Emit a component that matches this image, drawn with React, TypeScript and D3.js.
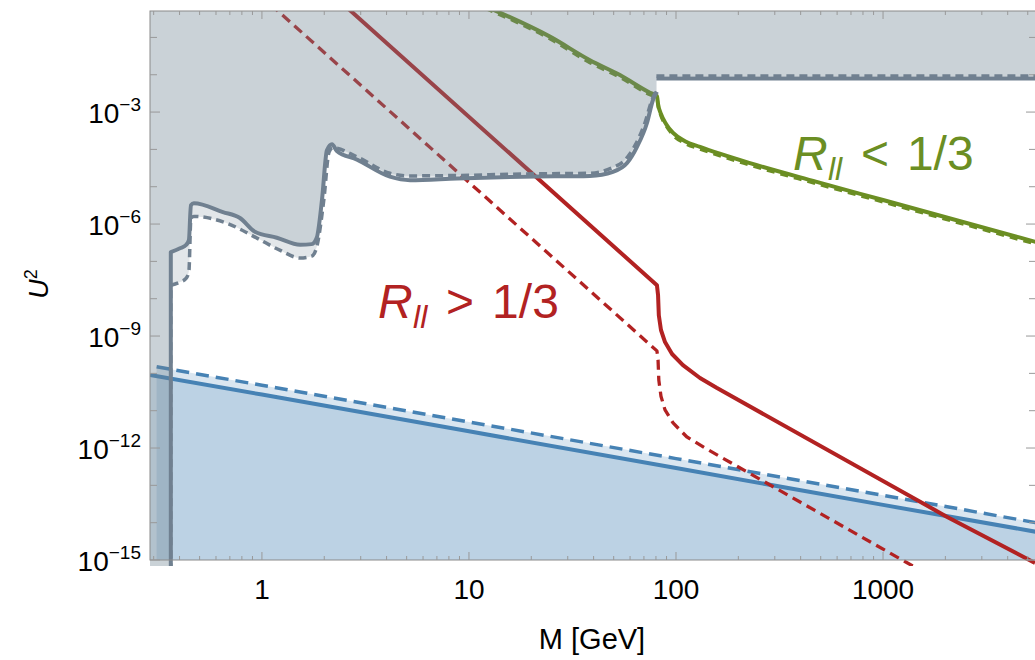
import React from 'react'
import * as d3 from 'd3'

type P = [number, number]

// axis ranges (M in GeV, U^2)
const xDomain: P = [0.288, 5480]
const yDomain: P = [1e-15, 0.51]
const xMajorTicks = [1, 10, 100, 1000]
const xTickLabels = ['1', '10', '100', '1000']
const yLabelExponents = [-3, -6, -9, -12, -15]
const yTickExponents = [-15, -14, -13, -12, -11, -10, -9, -8, -7, -6, -5, -4, -3, -2, -1]

// excluded region boundary, solid and dashed (first point = drop to the bottom)
const graySolid: P[] = [
  [0.363, 1e-16], [0.363, 1.78e-7], [0.402, 2.24e-7], [0.43, 2.75e-7], [0.444, 3.7e-7],
  [0.454, 3.2e-6], [0.469, 3.6e-6], [0.648, 2.1e-6], [0.783, 1.45e-6], [0.925, 6.2e-7],
  [1.18, 4.3e-7], [1.53, 2.8e-7], [1.74, 2.9e-7], [1.84, 4.3e-7], [1.95, 4.4e-6],
  [2.06, 9.5e-5], [2.18, 1.38e-4], [2.3, 9.1e-5], [2.88, 5.3e-5], [4.15, 1.86e-5],
  [5.19, 1.5e-5], [8.75, 1.66e-5], [18.2, 1.86e-5], [38.4, 1.95e-5], [49.6, 2.5e-5],
  [58, 4.3e-5], [64.8, 1.17e-4], [72.4, 5.1e-4], [77.4, 2.1e-3], [80.9, 3.5e-3],
]
const grayDashed: P[] = [
  [0.363, 1e-16], [0.363, 2.3e-8], [0.402, 2.8e-8], [0.43, 3.5e-8], [0.444, 5.5e-8],
  [0.454, 1.45e-6], [0.469, 1.6e-6], [0.678, 1.05e-6], [0.946, 4.2e-7], [1.22, 2.0e-7],
  [1.53, 1.23e-7], [1.74, 1.38e-7], [1.84, 2.45e-7], [1.99, 4.4e-6], [2.11, 8.5e-5],
  [2.2, 1.1e-4], [2.88, 6.3e-5], [4.15, 2.3e-5], [5.19, 1.95e-5], [8.75, 2.0e-5],
  [18.2, 2.2e-5], [38.4, 2.3e-5], [49, 3.2e-5], [56.7, 5.2e-5], [63.5, 1.3e-4],
  [71, 5.4e-4], [76.5, 2.1e-3], [80, 3.5e-3],
]
const grayTopSolid: P[] = [[80.4, 7.9e-3], [5480, 7.9e-3]]
const grayTopDashed: P[] = [[80.4, 9.2e-3], [5480, 9.2e-3]]

// lower bound (blue)
const blueSolid: P[] = [[0.288, 9.1e-11], [1, 2.7e-11], [10, 2.8e-12], [100, 2.9e-13], [1000, 3.0e-14], [5480, 5.7e-15]]
const blueDashed: P[] = [[0.31, 1.5e-10], [1, 4.8e-11], [10, 5.0e-12], [100, 5.2e-13], [1000, 5.4e-14], [5480, 1.0e-14]]

// R_ll > 1/3 (red)
const redSolid: P[] = [
  [2.5, 0.73], [80.9, 2.3e-8], [81.9, 1.26e-8], [82.6, 3.6e-9], [84.6, 1.45e-9], [88.5, 6.9e-10],
  [95.7, 3.3e-10], [108, 1.66e-10], [130.6, 7.5e-11], [157, 4.1e-11], [2030, 1.45e-14], [5420, 8.3e-16],
]
const redDashed: P[] = [
  [1.1, 0.77], [80.9, 4.0e-10], [81.9, 2.3e-10], [82.6, 6.6e-11], [84.6, 2.45e-11], [88.5, 1.05e-11],
  [96.8, 4.7e-12], [112.6, 2.0e-12], [138, 1.0e-12], [1455, 6e-16],
]

// R_ll < 1/3 (green)
const greenSolid: P[] = [
  [12, 0.68], [24.6, 0.105], [38.4, 0.0245], [53.6, 9.8e-3], [74.9, 3.3e-3], [80.9, 2.7e-3],
  [81.9, 1.64e-3], [84.6, 8.9e-4], [89.5, 4.8e-4], [96.8, 2.75e-4], [110.5, 1.66e-4],
  [130.6, 1.17e-4], [227.6, 4.3e-5], [478, 1.35e-5], [1000, 4.4e-6], [5480, 3.3e-7],
]
const greenDashed: P[] = [
  [12, 0.6], [24.6, 0.092], [38.4, 0.021], [53.6, 8.5e-3], [74.9, 2.9e-3], [80.9, 2.4e-3],
  [81.9, 1.45e-3], [84.6, 7.9e-4], [89.5, 4.3e-4], [96.8, 2.4e-4], [110.5, 1.45e-4],
  [130.6, 1.02e-4], [227.6, 3.8e-5], [478, 1.2e-5], [1000, 3.9e-6], [5480, 2.9e-7],
]

const RED = '#b22222'
const GREEN = '#6b8e23'
const BLUE = '#4682b4'
const GRAY = '#708090'
const FONT = '"Liberation Sans", Arial, Helvetica, sans-serif'

function CurveLabel({ x0, y0, rel, color }: { x0: number; y0: number; rel: string; color: string }) {
  return (
    <text y={y0} fontSize={48} fill={color}>
      <tspan x={x0} fontStyle="italic">R</tspan>
      <tspan x={x0 + 35} fontStyle="italic" fontSize={32} dy={10}>
        ll
      </tspan>
      <tspan x={x0 + 68} dy={-10}>
        {rel}
      </tspan>
      <tspan x={x0 + 114}>1/3</tspan>
    </text>
  )
}

export default function App() {
  const width = 1035
  const height = 660
  const left = 150
  const right = 1036
  const top = 11
  const bottom = 560
  const clipBottom = 566

  const x = d3.scaleLog().domain(xDomain).range([left, right])
  const y = d3.scaleLog().domain(yDomain).range([bottom, top])

  const smooth = d3
    .line<P>()
    .x((d) => x(d[0]))
    .y((d) => y(d[1]))
    .curve(d3.curveMonotoneX)
  const straight = d3
    .line<P>()
    .x((d) => x(d[0]))
    .y((d) => y(d[1]))
  const under = d3
    .area<P>()
    .x((d) => x(d[0]))
    .y0(y(1e-15))
    .y1((d) => y(d[1]))

  // boundary: straight drop to the bottom, smooth elsewhere
  const boundaryPath = (b: P[]) => straight(b.slice(0, 2))! + smooth(b.slice(1))!.replace(/^M/, 'L')

  // region above a boundary curve, up to the top, with the step at M_W
  const region = (b: P[], topU: number) => {
    const mW = b[b.length - 1][0]
    return (
      `M${x(0.2)},${y(1e-16)}` +
      boundaryPath(b).replace(/^M/, 'L') +
      `L${x(mW)},${y(topU)}L${x(1e5)},${y(topU)}L${x(1e5)},${y(10)}L${x(0.2)},${y(10)}Z`
    )
  }

  const xMinor: number[] = []
  for (let k = -1; k <= 3; k++) {
    for (let d = 2; d <= 9; d++) {
      const v = d * Math.pow(10, k)
      if (v > xDomain[0] && v < xDomain[1]) xMinor.push(v)
    }
  }

  const redLabel = { M: 3.64, U: 3e-9 }
  const greenLabel = { M: 367, U: 2.8e-5 }

  return (
    <svg
      width={width}
      height={height}
      style={{ position: 'absolute', left: 0, top: 0, background: '#fff' }}
      fontFamily={FONT}
    >
      <defs>
        <clipPath id="plot">
          <rect x={left} y={top} width={right - left} height={clipBottom - top} />
        </clipPath>
      </defs>

      <g clipPath="url(#plot)">
        {/* blue fills */}
        <path d={under(blueDashed)!} fill={BLUE} fillOpacity={0.2} />
        <path d={under(blueSolid)!} fill={BLUE} fillOpacity={0.2} />
        <path d={straight(blueDashed)!} fill="none" stroke={BLUE} strokeWidth={3.5} strokeDasharray="13 7" />
        <path d={straight(blueSolid)!} fill="none" stroke={BLUE} strokeWidth={4} />

        {/* red */}
        <path d={straight(redDashed)!} fill="none" stroke={RED} strokeWidth={3.3} strokeDasharray="10 6" strokeLinejoin="round" />
        <path d={straight(redSolid)!} fill="none" stroke={RED} strokeWidth={4} strokeLinejoin="round" />

        {/* green */}
        <path d={smooth(greenSolid)!} fill="none" stroke={GREEN} strokeWidth={4} />
        <path d={smooth(greenDashed)!} fill="none" stroke={GREEN} strokeWidth={3.3} strokeDasharray="8 6" />

        {/* excluded region */}
        <path d={region(grayDashed, 9.2e-3)} fill={GRAY} fillOpacity={0.2} />
        <path d={region(graySolid, 7.9e-3)} fill={GRAY} fillOpacity={0.2} />
        <path d={boundaryPath(graySolid)} fill="none" stroke={GRAY} strokeWidth={4} strokeLinejoin="round" />
        <path d={straight(grayTopSolid)!} fill="none" stroke={GRAY} strokeWidth={4} />
        <path d={boundaryPath(grayDashed)} fill="none" stroke={GRAY} strokeWidth={3.5} strokeDasharray="8 5" />
        <path d={straight(grayTopDashed)!} fill="none" stroke={GRAY} strokeWidth={3.5} strokeDasharray="8 5" />
      </g>

      {/* frame */}
      <rect x={left} y={top} width={right - left} height={bottom - top} fill="none" stroke="#8a8a8a" strokeWidth={1} />

      {/* x ticks */}
      {xMajorTicks.map((v) => (
        <g key={`xM${v}`} stroke="#999" strokeWidth={1}>
          <line x1={x(v)} x2={x(v)} y1={bottom} y2={bottom - 8} />
          <line x1={x(v)} x2={x(v)} y1={top} y2={top + 8} />
        </g>
      ))}
      {xMinor.map((v) => (
        <g key={`xm${v}`} stroke="#999" strokeWidth={1}>
          <line x1={x(v)} x2={x(v)} y1={bottom} y2={bottom - 4} />
          <line x1={x(v)} x2={x(v)} y1={top} y2={top + 4} />
        </g>
      ))}
      {xMajorTicks.map((v, i) => (
        <text key={`xl${v}`} x={x(v)} y={599} textAnchor="middle" fontSize={28} fill="#000">
          {xTickLabels[i]}
        </text>
      ))}

      {/* y ticks */}
      {yTickExponents.map((e) => {
        const yy = y(Math.pow(10, e))
        const len = yLabelExponents.includes(e) ? 10 : 7
        return (
          <g key={`y${e}`} stroke="#999" strokeWidth={1}>
            <line x1={left} x2={left + len} y1={yy} y2={yy} />
            <line x1={right} x2={right - len} y1={yy} y2={yy} />
          </g>
        )
      })}
      {yLabelExponents.map((e) => (
        <text key={`yl${e}`} x={141} y={y(Math.pow(10, e)) + 11} textAnchor="end" fontSize={28} fill="#000">
          10
          <tspan fontSize={19} dy={-12}>
            {`\u2212${-e}`}
          </tspan>
        </text>
      ))}

      {/* axis labels */}
      <text x={592} y={649} textAnchor="middle" fontSize={29} fill="#000">
        M [GeV]
      </text>
      <text transform="translate(48,284) rotate(-90)" textAnchor="middle" fontSize={27} fill="#000">
        <tspan fontStyle="italic">U</tspan>
        <tspan fontSize={18} dy={-11}>
          2
        </tspan>
      </text>

      {/* curve labels */}
      <CurveLabel x0={x(redLabel.M)} y0={y(redLabel.U)} rel=">" color={RED} />
      <CurveLabel x0={x(greenLabel.M)} y0={y(greenLabel.U)} rel="<" color={GREEN} />
    </svg>
  )
}
